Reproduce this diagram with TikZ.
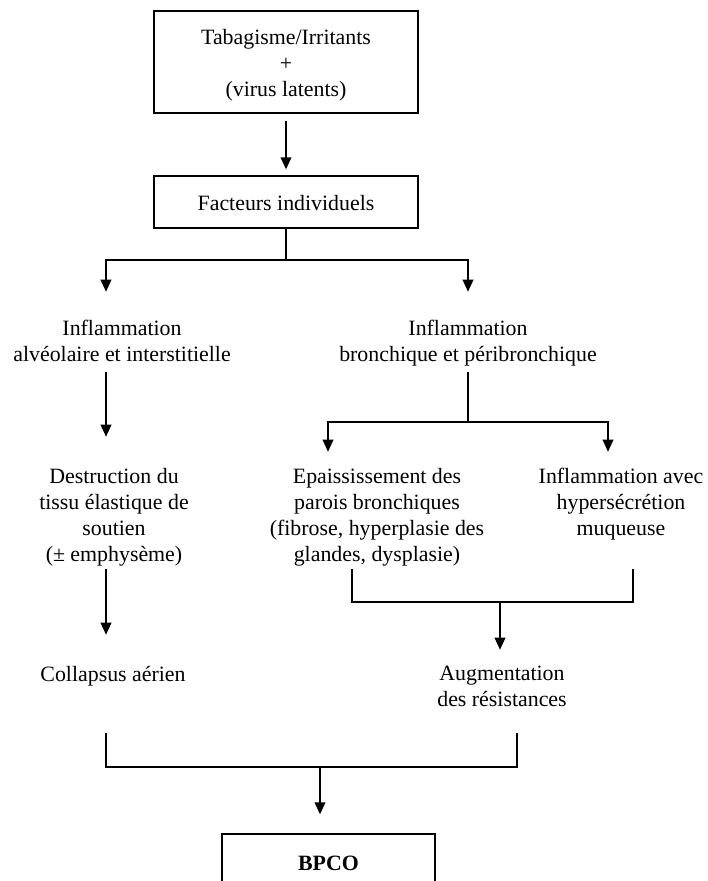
\documentclass[tikz,border=0pt]{standalone}
\usepackage{fontspec}
\setmainfont{Liberation Serif}
\usetikzlibrary{arrows.meta}
\newcommand\ms{\rule[-3.6pt]{0pt}{19.5pt}}
\begin{document}
\begin{tikzpicture}[x=0.75pt,y=-0.75pt,
  txt/.style={align=center,inner sep=0pt,font=\fontsize{16.4pt}{19.5pt}\selectfont},
  box/.style={draw,line width=1pt,inner sep=0pt,align=center,font=\fontsize{16.4pt}{19.5pt}\selectfont},
  ln/.style={line width=1.1pt},
  arr/.style={ln,-{Triangle[width=8pt,length=9pt]}}]
\useasboundingbox (0,0) rectangle (707,881);
% boxes
\node[box,minimum width=198pt,minimum height=76.5pt] (top) at (286,62)
  {Tabagisme/Irritants\ms\\+\ms\\(virus latents)\ms};
\node[box,minimum width=198pt,minimum height=39pt] (fact) at (286,202)
  {Facteurs individuels\ms};
% text nodes
\node[txt] (infA) at (122,340) {Inflammation\ms\\alvéolaire et interstitielle\ms};
\node[txt] (infB) at (468,340) {Inflammation\ms\\bronchique et péribronchique\ms};
\node[txt] (destr) at (114,514) {Destruction du\ms\\tissu élastique de\ms\\soutien\ms\\(± emphysème)\ms};
\node[txt] (epa) at (377,514) {Epaississement des\ms\\parois bronchiques\ms\\(fibrose, hyperplasie des\ms\\glandes, dysplasie)\ms};
\node[txt] (hyp) at (621,501) {Inflammation avec\ms\\hypersécrétion\ms\\muqueuse\ms};
\node[txt] (coll) at (113,673) {Collapsus aérien\ms};
\node[txt] (aug) at (502,685.5) {Augmentation\ms\\des résistances\ms};
\node[box,line width=1pt,minimum width=159.75pt,minimum height=42pt] (bpco) at (328.5,862) {\textbf{BPCO}\ms};
% column coordinates
\coordinate (cL) at (106,0);
\coordinate (s1) at (287,260);
\coordinate (s2) at (468,422);
\coordinate (cE) at (328,0);
\coordinate (cH) at (608,0);
\coordinate (cE2) at (352,0);
\coordinate (cH2) at (633,0);
\coordinate (s3) at (500,602);
\coordinate (cR) at (517,0);
\coordinate (s4) at (320,767);
% connectors
\draw[arr,shorten <=5.25pt,shorten >=4.5pt] (top) -- (fact);
\draw[arr,shorten >=16.5pt] (fact.south) |- (s1 -| cL) -- (infA.north -| cL);
\draw[arr,shorten >=16.5pt] (fact.south) |- (s1 -| infB) -- (infB.north);
\draw[arr,shorten <=4.5pt,shorten >=18.75pt] (infA.south -| cL) -- (destr.north -| cL);
\draw[arr,shorten <=2.25pt,shorten >=18.75pt] (destr.south -| cL) -- (coll.north -| cL);
\draw[arr,shorten <=4.5pt,shorten >=7.5pt] (infB.south) |- (s2 -| cE) -- (epa.north -| cE);
\draw[arr,shorten <=4.5pt,shorten >=7.5pt] (infB.south) |- (s2 -| cH) -- (hyp.north -| cH);
\draw[ln,shorten <=2.25pt,shorten >=21.75pt] (epa.south -| cE2) -- (cE2 |- s3) -- (cH2 |- s3) -- (hyp.south -| cH2);
\draw[arr,shorten >=7.125pt] (s3) -- (aug.north -| s3);
\draw[ln,shorten <=35.25pt,shorten >=16.125pt] (coll.south -| cL) -- (cL |- s4) -- (cR |- s4) -- (aug.south -| cR);
\draw[arr,shorten >=14.25pt] (s4) -- (bpco.north -| s4);
\end{tikzpicture}
\end{document}
